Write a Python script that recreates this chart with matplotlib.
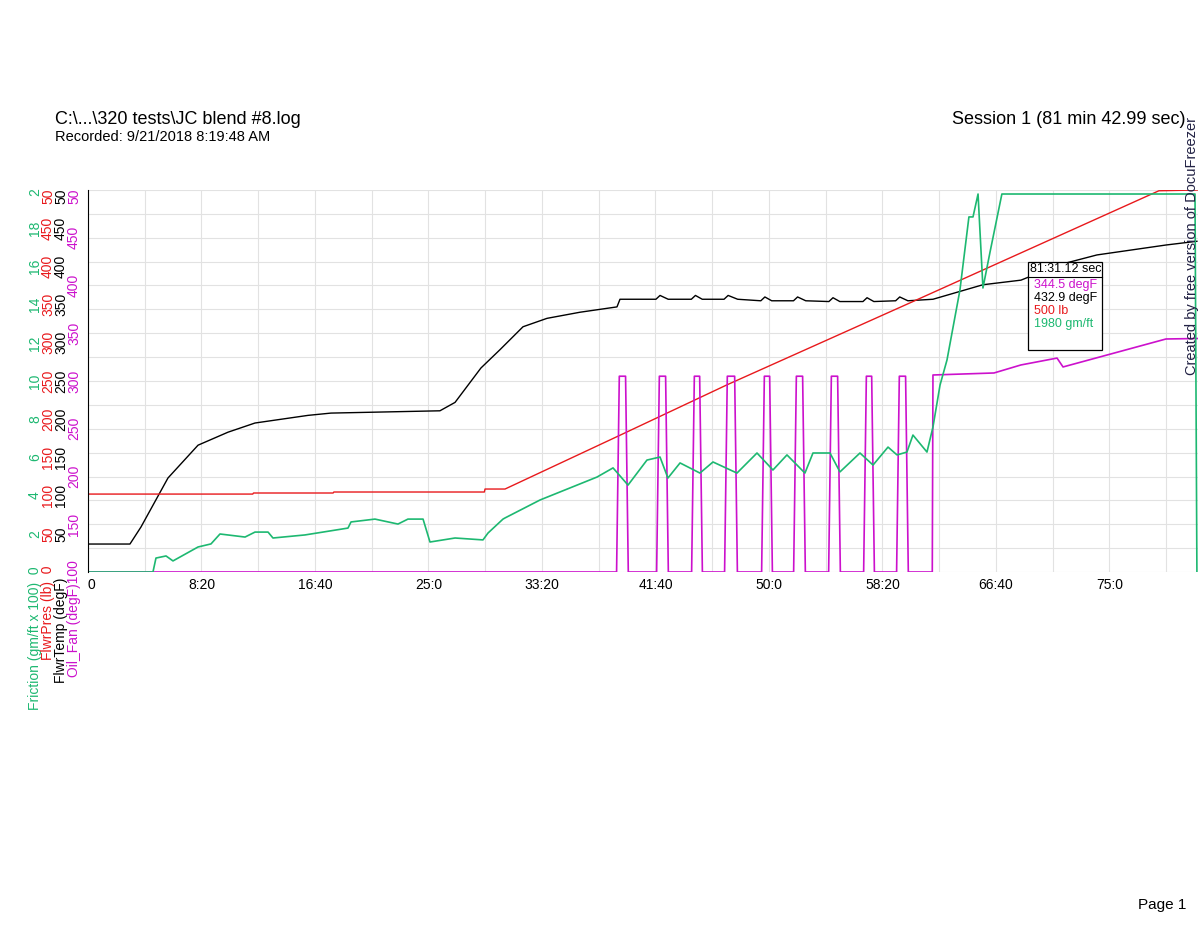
import matplotlib
matplotlib.use("Agg")
import matplotlib.pyplot as plt
import numpy as np
from matplotlib.patches import Rectangle

plt.rcParams['font.family'] = ['Liberation Sans', 'DejaVu Sans']

# ---- data (time in minutes) ----
temp_t = [0, 3.08, 3.89, 5.87, 8.08, 10.28, 12.26, 16.15, 17.84, 25.84, 26.95, 28.85, 30.25, 31.94, 33.70, 36.12, 38.84, 39.06,
          41.7, 42.0, 42.6, 44.3, 44.6, 45.1, 46.7, 47.0, 47.7, 49.4, 49.7, 50.2, 51.8, 52.1, 52.7, 54.4, 54.7, 55.2,
          56.9, 57.2, 57.7, 59.3, 59.6, 60.2, 62.04, 65.71, 68.5, 71.29, 74.08, 79.15, 81.42]
temp_v = [36.6, 36.6, 58.9, 123, 166, 183, 195, 205, 208, 211, 222, 267, 291, 321, 332, 340, 347, 357,
          357, 362, 357, 357, 362, 357, 357, 362, 357, 355, 360, 355, 355, 360, 355, 354, 359, 354,
          354, 359, 354, 355, 360, 355, 357, 376, 382, 402, 415, 428, 432.9]

pres_t = [0, 12.1, 12.15, 18.0, 18.05, 29.1, 29.15, 30.62, 39.06, 46.92, 60.57, 78.63, 81.5]
pres_v = [102, 102, 103.4, 103.4, 104.7, 104.7, 108.6, 108.6, 179, 245, 354, 499, 500]

fric_t = [0, 4.77, 4.99, 5.73, 6.24, 8.08, 9.03, 9.69, 11.53, 12.26, 13.22, 13.58, 15.93, 19.09, 19.31, 21.07, 22.76, 23.49,
          24.6, 25.11, 26.95, 29.0, 29.37, 30.47, 30.62, 33.19, 37.37, 38.55, 39.65, 41.04, 42.0, 42.58, 43.47, 44.93,
          45.89, 47.65, 49.12, 50.29, 51.32, 52.64, 53.23, 54.48, 55.21, 56.68, 57.64, 58.74, 59.4, 60.13, 60.57,
          61.6, 62.04, 62.56, 63.07, 64.02, 64.68, 64.98, 65.35, 65.71, 66.23, 67.1, 81.28, 81.42]
fric_v = [0, 0, 0.73, 0.84, 0.58, 1.31, 1.47, 1.99, 1.83, 2.09, 2.09, 1.78, 1.94, 2.30, 2.62, 2.77, 2.51, 2.77,
          2.77, 1.57, 1.78, 1.68, 2.04, 2.77, 2.83, 3.77, 4.97, 5.45, 4.55, 5.86, 6.02, 4.92, 5.71, 5.18,
          5.76, 5.18, 6.23, 5.34, 6.13, 5.18, 6.23, 6.23, 5.24, 6.23, 5.60, 6.54, 6.13, 6.28, 7.17,
          6.28, 7.59, 9.79, 11.10, 14.76, 18.59, 18.59, 19.79, 14.87, 16.75, 19.79, 19.79, 0]

pulse_on = [38.91, 41.85, 44.42, 46.84, 49.56, 51.91, 54.48, 57.05, 59.47]
pulse_off = [39.57, 42.51, 45.01, 47.58, 50.15, 52.57, 55.14, 57.64, 60.13]
pulse_top = 305
fan_tail_t = [62.04, 66.52, 68.5, 71.15, 71.59, 79.15, 81.5]
fan_tail_v = [306.3, 308.4, 316.8, 324, 314.7, 344, 344.5]

xtick_vals = [0, 8.333, 16.667, 25, 33.333, 41.667, 50, 58.333, 66.667, 75]
xtick_labels = ["0", "8:20", "16:40", "25:0", "33:20", "41:40", "50:0", "58:20", "66:40", "75:0"]

GREEN = "#1db871"; RED = "#e8191c"; MAG = "#cc11cc"; BLK = "black"

fan_t, fan_v = [0], [100]
for a, b in zip(pulse_on, pulse_off):
    fan_t += [a - 0.1, a + 0.1, b - 0.1, b + 0.1]
    fan_v += [100, pulse_top, pulse_top, 100]
fan_t += [fan_tail_t[0] - 0.05] + fan_tail_t
fan_v += [100] + fan_tail_v

W, H = 1200, 927
fig = plt.figure(figsize=(12, 9.27), dpi=100)
L, R, B, T = 88, 1198, 572, 190
ax = fig.add_axes([L / W, 1 - B / H, (R - L) / W, (B - T) / H])
ax.set_xlim(0, 81.5)
ax.set_ylim(0, 500)
for s in ["top", "right", "bottom"]:
    ax.spines[s].set_visible(False)
ax.spines["left"].set_linewidth(0.8)
ax.set_yticks(np.linspace(0, 500, 17))
ax.set_xticks(np.arange(0, 81.5, 250 / 60))
ax.grid(True, color="#e2e2e2", lw=0.8)
ax.tick_params(left=False, bottom=False, labelleft=False, labelbottom=False)

ax.plot(temp_t, temp_v, color=BLK, lw=1.0)
ax.plot(pres_t, pres_v, color=RED, lw=1.0)
ax.plot(fan_t, (np.array(fan_v) - 100) * 500 / 400, color=MAG, lw=1.2)
ax.plot(fric_t, np.array(fric_v) * 25, color=GREEN, lw=1.2)

def fx(x): return x / W
def fy(y): return 1 - y / H
def ypix(v): return B - v / 500 * (B - T)

for xv, lab in zip(xtick_vals, xtick_labels):
    xp = L + xv / 81.5 * (R - L)
    fig.text(fx(xp), fy(585), lab, ha="left" if lab == "0" else "center", va="center", fontsize=10)

fs = 10
for v in range(2, 20, 2):
    fig.text(fx(35), fy(ypix(v * 25)), str(v), rotation=90, color=GREEN, ha="center", va="center", fontsize=fs)
fig.text(fx(35), fy(ypix(500) - 2), "2", rotation=90, color=GREEN, ha="center", va="top", fontsize=fs)
for v in range(50, 500, 50):
    fig.text(fx(48), fy(ypix(v)), str(v), rotation=90, color=RED, ha="center", va="center", fontsize=fs)
fig.text(fx(48), fy(ypix(500) - 2), "50", rotation=90, color=RED, ha="center", va="top", fontsize=fs)
for v in range(50, 500, 50):
    fig.text(fx(61), fy(ypix(v)), str(v), rotation=90, color=BLK, ha="center", va="center", fontsize=fs)
fig.text(fx(61), fy(ypix(500) - 2), "50", rotation=90, color=BLK, ha="center", va="top", fontsize=fs)
for v in range(150, 500, 50):
    fig.text(fx(74), fy(ypix((v - 100) * 1.25)), str(v), rotation=90, color=MAG, ha="center", va="center", fontsize=fs)
fig.text(fx(74), fy(ypix(500) - 2), "50", rotation=90, color=MAG, ha="center", va="top", fontsize=fs)

fig.text(fx(35), fy(566), "Friction (gm/ft x 100)  0", rotation=90, color=GREEN, ha="center", va="top", fontsize=fs)
fig.text(fx(48), fy(566), "FlwrPres (lb)  0", rotation=90, color=RED, ha="center", va="top", fontsize=fs)
fig.text(fx(61), fy(578), "FlwrTemp (degF)", rotation=90, color=BLK, ha="center", va="top", fontsize=fs)
fig.text(fx(74), fy(560), "Oil_Fan (degF)100", rotation=90, color=MAG, ha="center", va="top", fontsize=fs)

fig.text(fx(55), fy(120), "C:\\...\\320 tests\\JC blend #8.log", fontsize=13, va="center", ha="left")
fig.text(fx(55), fy(137), "Recorded: 9/21/2018 8:19:48 AM", fontsize=10.5, va="center", ha="left")
fig.text(fx(1186), fy(120), "Session 1 (81 min 42.99 sec)", fontsize=13, va="center", ha="right")
fig.text(fx(1192), fy(246), "Created by free version of DocuFreezer", rotation=90, fontsize=10.5,
         va="center", ha="center", color="#222244")
fig.text(fx(1186), fy(905), "Page 1", fontsize=11, ha="right", va="center")

fig.patches.append(Rectangle((fx(1028), fy(350)), (1102 - 1028) / W, (350 - 262) / H, transform=fig.transFigure,
                             facecolor="white", edgecolor="black", lw=0.9, zorder=5))
fig.lines.append(plt.Line2D([fx(1028), fx(1102)], [fy(277), fy(277)], transform=fig.transFigure, color="black", lw=0.8, zorder=6))
ann = [("81:31.12 sec", BLK, 269.5), ("344.5 degF", MAG, 285), ("432.9 degF", BLK, 298), ("500 lb", RED, 311), ("1980 gm/ft", GREEN, 324)]
for txt, c, y in ann:
    fig.text(fx(1030 if y < 270 else 1034), fy(y), txt, color=c, fontsize=9, va="center", ha="left", zorder=7)

fig.savefig("out.png", dpi=100)
